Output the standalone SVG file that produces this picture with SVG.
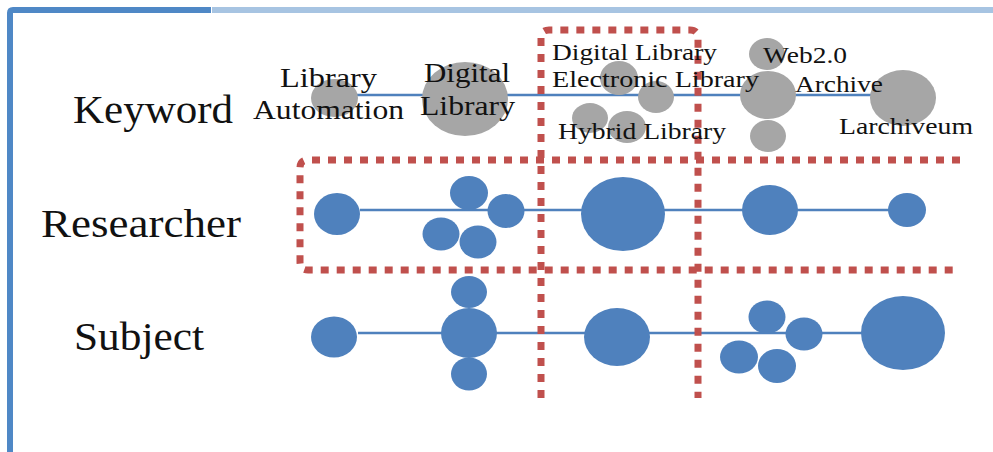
<svg xmlns="http://www.w3.org/2000/svg" width="993" height="452" viewBox="0 0 993 452">
<style>
.t{font-family:"Liberation Serif","Times New Roman",serif;fill:#111;}
.big{font-size:39px;}
.mid{font-size:28px;}
.sm{font-size:24px;}
.kw{fill:#a6a6a6;}
.bl{fill:#4f81bd;}
.ln{stroke:#4f81bd;stroke-width:2.5;fill:none;}
.dot{stroke:#c0504d;stroke-width:7;fill:none;stroke-dasharray:8 8;}
</style>
<rect width="993" height="452" fill="#fff"/>
<g id="frame">
<rect x="212" y="7" width="781" height="6" fill="#a7c4e2"/>
<path d="M10 452 V13 Q10 10 13 10 H211" stroke="#4f88c6" stroke-width="6" fill="none"/>
</g>
<g id="labels">
<text class="t big" x="73" y="123" textLength="160" lengthAdjust="spacingAndGlyphs">Keyword</text>
<text class="t big" x="41" y="237" textLength="200" lengthAdjust="spacingAndGlyphs">Researcher</text>
<text class="t big" x="74" y="350" textLength="130" lengthAdjust="spacingAndGlyphs">Subject</text>
</g>
<g id="connectors">
<line class="ln" x1="357" y1="95" x2="935" y2="95"/>
<line class="ln" x1="360" y1="210" x2="890" y2="210"/>
<line class="ln" x1="358" y1="333" x2="862" y2="333"/>
</g>
<g id="keyword-nodes">
<ellipse class="kw" cx="334.5" cy="98" rx="23.5" ry="19"/>
<ellipse class="kw" cx="465" cy="99" rx="43" ry="37"/>
<ellipse class="kw" cx="619" cy="78" rx="19" ry="17"/>
<ellipse class="kw" cx="656" cy="97" rx="18" ry="16"/>
<ellipse class="kw" cx="590" cy="118" rx="18" ry="15"/>
<ellipse class="kw" cx="627" cy="127" rx="19" ry="16"/>
<ellipse class="kw" cx="767" cy="54" rx="18" ry="16"/>
<ellipse class="kw" cx="768" cy="95" rx="28" ry="24"/>
<ellipse class="kw" cx="768" cy="136" rx="18" ry="16"/>
<ellipse class="kw" cx="903" cy="98" rx="33" ry="28"/>
</g>
<g id="researcher-nodes">
<ellipse class="bl" cx="337" cy="214" rx="23" ry="21"/>
<ellipse class="bl" cx="469" cy="193" rx="19" ry="17"/>
<ellipse class="bl" cx="506" cy="211" rx="18.5" ry="17"/>
<ellipse class="bl" cx="441" cy="234" rx="18.5" ry="16.5"/>
<ellipse class="bl" cx="478" cy="242" rx="18.5" ry="16.5"/>
<ellipse class="bl" cx="623" cy="214" rx="42" ry="37"/>
<ellipse class="bl" cx="770" cy="210" rx="28" ry="25"/>
<ellipse class="bl" cx="907" cy="210" rx="19" ry="17"/>
</g>
<g id="subject-nodes">
<ellipse class="bl" cx="334" cy="337" rx="23" ry="20.5"/>
<ellipse class="bl" cx="469" cy="292" rx="18" ry="16"/>
<ellipse class="bl" cx="469" cy="333" rx="28" ry="25"/>
<ellipse class="bl" cx="469" cy="374" rx="18" ry="16.5"/>
<ellipse class="bl" cx="617" cy="337" rx="33" ry="29"/>
<ellipse class="bl" cx="767" cy="317" rx="18.5" ry="16.5"/>
<ellipse class="bl" cx="804" cy="334" rx="18.5" ry="16.5"/>
<ellipse class="bl" cx="739" cy="357" rx="19" ry="16.5"/>
<ellipse class="bl" cx="777" cy="366" rx="19" ry="17"/>
<ellipse class="bl" cx="903" cy="333" rx="42" ry="37"/>
</g>
<g id="highlight-column">
<path class="dot" d="M541 398 V38 Q541 30 549 30 H690 Q698 30 698 38 V398"/>
</g>
<g id="highlight-row">
<path class="dot" d="M960 160 H308 Q300 160 300 168 V262 Q300 270 308 270 H960"/>
</g>
<g id="keyword-labels">
<text class="t mid" x="280" y="87" textLength="97" lengthAdjust="spacingAndGlyphs">Library</text>
<text class="t mid" x="253" y="119" textLength="151" lengthAdjust="spacingAndGlyphs">Automation</text>
<text class="t mid" x="424" y="82" textLength="86" lengthAdjust="spacingAndGlyphs">Digital</text>
<text class="t mid" x="420" y="115" textLength="95" lengthAdjust="spacingAndGlyphs">Library</text>
<text class="t sm" x="552" y="60" textLength="165" lengthAdjust="spacingAndGlyphs">Digital Library</text>
<text class="t sm" x="552" y="87" textLength="207" lengthAdjust="spacingAndGlyphs">Electronic Library</text>
<text class="t sm" x="558" y="139" textLength="168" lengthAdjust="spacingAndGlyphs">Hybrid Library</text>
<text class="t sm" x="763" y="63" textLength="84" lengthAdjust="spacingAndGlyphs">Web2.0</text>
<text class="t sm" x="795" y="92" textLength="88" lengthAdjust="spacingAndGlyphs">Archive</text>
<text class="t sm" x="839" y="134" textLength="134" lengthAdjust="spacingAndGlyphs">Larchiveum</text>
</g>
</svg>
